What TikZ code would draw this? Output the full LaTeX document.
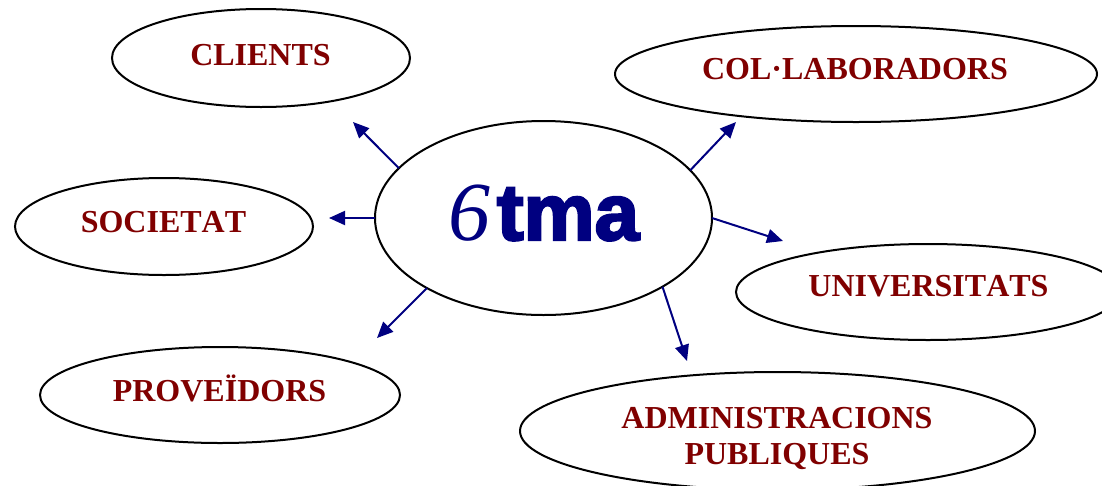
\documentclass[tikz,border=0pt]{standalone}
\usepackage{fontspec}
\setmainfont{Liberation Serif}
\newfontfamily\logosans[FakeBold=3]{Liberation Sans Bold}
\usetikzlibrary{shapes.geometric,arrows.meta}
\definecolor{darkred}{RGB}{128,0,0}
\definecolor{navyblue}{RGB}{0,0,128}
\tikzset{
  x=1pt,y=-1pt,
  oval/.style={draw=black,line width=2pt,ellipse,inner sep=0pt,outer sep=0pt,fill=white},
  lbl/.style={text=darkred,font=\fontsize{32}{32}\selectfont\bfseries,inner sep=0pt,anchor=base},
  nokern/.style={lbl,font=\fontsize{32}{32}\selectfont\bfseries\addfontfeature{Kerning=Off}},
  link/.style={draw=navyblue,line width=2pt,-{Triangle[length=16pt,width=14pt]}}
}
\begin{document}
\begin{tikzpicture}
\useasboundingbox (0,0) rectangle (1102,485);
\clip (0,0) rectangle (1102,485);
\node[oval,minimum width=298pt,minimum height=98pt] (clients) at (261,58) {};
\node[oval,minimum width=482pt,minimum height=96pt] (collab) at (856,74) {};
\node[oval,minimum width=298pt,minimum height=97pt] (societat) at (164,226.5) {};
\node[oval,minimum width=337pt,minimum height=194pt] (hub) at (543.5,218) {};
\node[oval,minimum width=384pt,minimum height=96pt] (univ) at (928,292) {};
\node[oval,minimum width=360pt,minimum height=96pt] (prov) at (220,395) {};
\node[oval,minimum width=515pt,minimum height=118pt] (admin) at (777.5,431) {};
\node[lbl] (tclients) at (260.5,65) {CLIENTS};
\node[lbl] (tcollab) at (855,79) {COL·LABORADORS};
\node[nokern] (tsocietat) at (163.5,232) {SOCIETAT};
\node[nokern] (tuniv) at (928.5,296) {UNIVERSITATS};
\node[lbl] (tprov) at (219.5,401) {PROVEÏDORS};
\node[lbl] (tadmin) at (777,428) {ADMINISTRACIONS};
\node[lbl] (tpub) at (777,464) {PUBLIQUES};
\node[inner sep=0pt,anchor=base,text=navyblue,font=\fontsize{84}{84}\selectfont\itshape] (six) at (469,240) {6};
\node[inner sep=0pt,anchor=base,text=navyblue,font=\logosans\fontsize{80}{80}\selectfont] (tma) at (568,240) {tma};
\coordinate (eclients) at (353,122);
\coordinate (ecollab) at (736,122);
\coordinate (esocietat) at (329,218);
\coordinate (euniv) at (783,241);
\coordinate (eprov) at (377,338);
\coordinate (eadmin) at (687,361);
\draw[link] (hub.161.6) -- (eclients);
\draw[link] (hub.18.4) -- (ecollab);
\draw[link] (hub.180) -- (esocietat);
\draw[link] (hub.0.7) -- (euniv);
\draw[link] (hub.211.1) -- (eprov);
\draw[link] (hub.-30.5) -- (eadmin);
\end{tikzpicture}
\end{document}
